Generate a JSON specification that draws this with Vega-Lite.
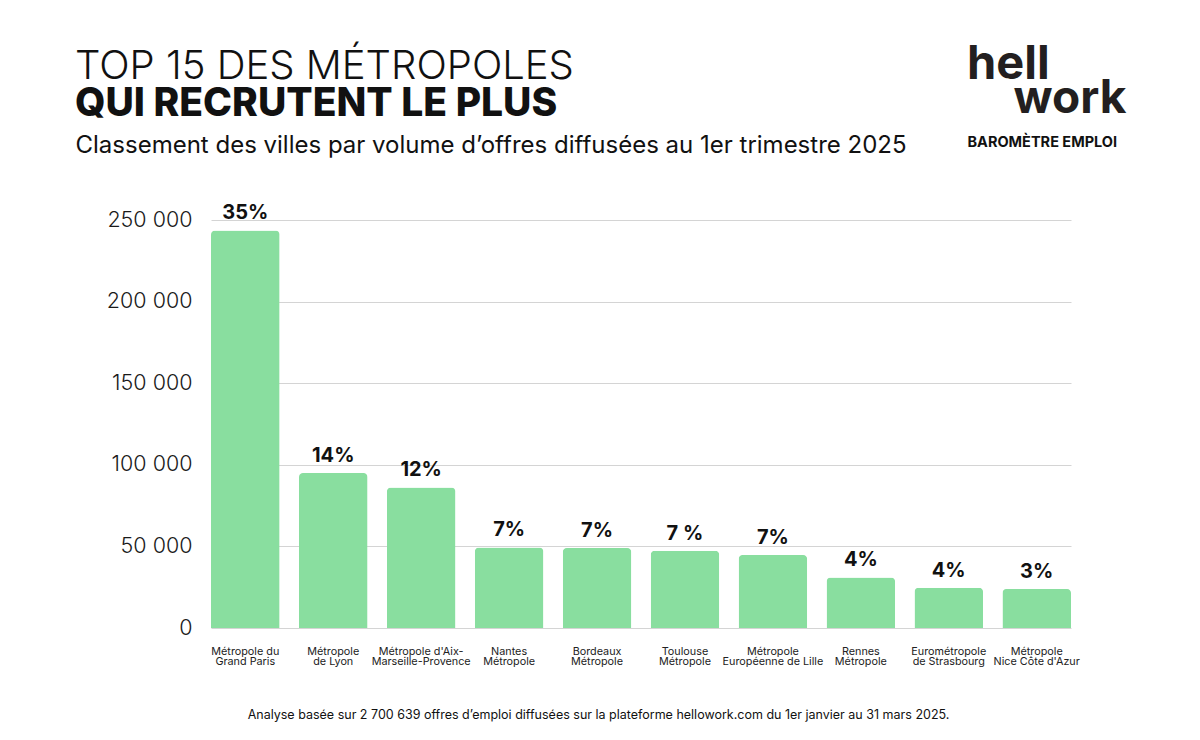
{
  "$schema": "https://vega.github.io/schema/vega-lite/v6.json",
  "width": 860,
  "height": 408,
  "autosize": {"type": "none"},
  "padding": {"left": 211, "top": 220, "right": 129, "bottom": 112},
  "background": "#ffffff",
  "data": {
    "values": [
      {"metropole": "Métropole du\nGrand Paris", "offres": 243600, "part": "35%"},
      {"metropole": "Métropole\nde Lyon", "offres": 94900, "part": "14%"},
      {"metropole": "Métropole d'Aix-\nMarseille-Provence", "offres": 86100, "part": "12%"},
      {"metropole": "Nantes\nMétropole", "offres": 49400, "part": "7%"},
      {"metropole": "Bordeaux\nMétropole", "offres": 49000, "part": "7%"},
      {"metropole": "Toulouse\nMétropole", "offres": 47300, "part": "7 %"},
      {"metropole": "Métropole\nEuropéenne de Lille", "offres": 44700, "part": "7%"},
      {"metropole": "Rennes\nMétropole", "offres": 31000, "part": "4%"},
      {"metropole": "Eurométropole\nde Strasbourg", "offres": 24700, "part": "4%"},
      {"metropole": "Métropole\nNice Côte d'Azur", "offres": 23900, "part": "3%"}
    ]
  },
  "title": {
    "text": "TOP 15 DES MÉTROPOLES",
    "subtitle": "QUI RECRUTENT LE PLUS",
    "anchor": "start",
    "frame": "group",
    "dx": -136,
    "offset": -82,
    "font": "Inter",
    "fontSize": 40,
    "fontWeight": 300,
    "color": "#111111",
    "subtitleFont": "Inter",
    "subtitleFontSize": 39,
    "subtitleFontWeight": 800,
    "subtitleColor": "#111111",
    "subtitlePadding": -2
  },
  "resolve": {"axis": {"x": "independent", "y": "independent"}},
  "layer": [
    {
      "mark": {"type": "bar", "cornerRadiusTopLeft": 4, "cornerRadiusTopRight": 4},
      "encoding": {
        "x": {
          "field": "metropole",
          "type": "nominal",
          "sort": null,
          "scale": {"paddingInner": 0.22, "paddingOuter": 0},
          "axis": {
            "orient": "bottom",
            "labelAngle": 0,
            "labelExpr": "split(datum.value, '\\n')",
            "labelFont": "Inter",
            "labelFontSize": 10.8,
            "labelLineHeight": 10,
            "labelColor": "#222222",
            "labelPadding": 17,
            "labelBaseline": "top",
            "ticks": false,
            "domain": false,
            "grid": false,
            "title": "Analyse basée sur 2 700 639 offres d’emploi diffusées sur la plateforme hellowork.com du 1er janvier au 31 mars 2025.",
            "titleFont": "Inter",
            "titleFontSize": 12.5,
            "titleFontWeight": 400,
            "titleColor": "#111111",
            "titleX": 387,
            "titleY": 90,
            "titleAlign": "center",
            "titleBaseline": "alphabetic"
          }
        },
        "y": {
          "field": "offres",
          "type": "quantitative",
          "scale": {"domain": [0, 250000], "nice": false},
          "axis": {
            "orient": "left",
            "values": [0, 50000, 100000, 150000, 200000, 250000],
            "labelExpr": "datum.value == 0 ? '0' : format(datum.value / 1000, 'd') + ' 000'",
            "labelFont": "Inter",
            "labelFontSize": 21.5,
            "labelFontWeight": 300,
            "labelColor": "#1a1a1a",
            "labelPadding": 19,
            "ticks": false,
            "domain": false,
            "grid": true,
            "gridColor": "#d4d4d4",
            "gridWidth": 1,
            "title": null
          }
        },
        "color": {
          "datum": "BAROMÈTRE EMPLOI",
          "type": "nominal",
          "scale": {"range": ["#89de9f"]},
          "legend": {
            "orient": "none",
            "legendX": 756,
            "legendY": -178,
            "title": "hell",
            "titleFont": "Inter",
            "titleFontSize": 47,
            "titleFontWeight": 700,
            "titleColor": "#231f20",
            "titlePadding": 47,
            "labelFont": "Inter",
            "labelFontSize": 14.5,
            "labelFontWeight": 700,
            "labelColor": "#111111",
            "labelOffset": -14,
            "symbolSize": 0,
            "symbolOpacity": 0,
            "symbolStrokeWidth": 0,
            "padding": 0
          }
        }
      }
    },
    {
      "mark": {"type": "text", "baseline": "alphabetic", "dy": -11, "font": "Inter", "fontSize": 20, "fontWeight": 700, "color": "#111111"},
      "encoding": {
        "x": {
          "field": "metropole",
          "type": "nominal",
          "sort": null,
          "axis": {
            "orient": "top",
            "labels": false,
            "ticks": false,
            "domain": false,
            "grid": false,
            "title": "Classement des villes par volume d’offres diffusées au 1er trimestre 2025",
            "titleFont": "Inter",
            "titleFontSize": 24,
            "titleFontWeight": 400,
            "titleColor": "#111111",
            "titleX": -136,
            "titleY": -68,
            "titleAlign": "left",
            "titleBaseline": "alphabetic"
          }
        },
        "y": {
          "field": "offres",
          "type": "quantitative",
          "axis": {
            "orient": "right",
            "labels": false,
            "ticks": false,
            "domain": false,
            "grid": false,
            "title": "work",
            "titleFont": "Inter",
            "titleFontSize": 46,
            "titleFontWeight": 700,
            "titleColor": "#231f20",
            "titleAngle": 0,
            "titleX": -58,
            "titleY": -108,
            "titleAlign": "left",
            "titleBaseline": "alphabetic"
          }
        },
        "text": {"field": "part", "type": "nominal"}
      }
    }
  ],
  "config": {
    "view": {"stroke": null},
    "font": "Inter"
  }
}
